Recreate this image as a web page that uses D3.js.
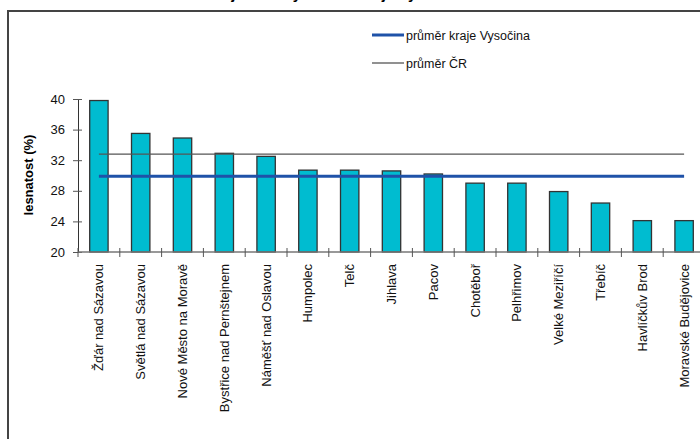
<!DOCTYPE html>
<html>
<head>
<meta charset="utf-8">
<script src="https://cdn.jsdelivr.net/npm/d3@7"></script>
<style>
  body { margin: 0; background: #fff; }
  svg { display: block; font-family: Arial, "Liberation Sans", sans-serif; }
</style>
</head>
<body>
<svg id="chart"></svg>
<script>
// Data
const towns = ["Žďár nad Sázavou", "Světlá nad Sázavou", "Nové Město na Moravě",
  "Bystřice nad Pernštejnem", "Náměšť nad Oslavou", "Humpolec", "Telč", "Jihlava",
  "Pacov", "Chotěboř", "Pelhřimov", "Velké Meziříčí", "Třebíč", "Havlíčkův Brod",
  "Moravské Budějovice"];
const forestShare = [39.8, 35.5, 34.9, 32.9, 32.5, 30.7, 30.7, 30.6, 30.2, 29.0, 29.0, 27.9, 26.4, 24.1, 24.1];
const regionAvg = 29.9;
const czAvg = 32.8;
const yTicks = [20, 24, 28, 32, 36, 40];
const legendLabels = ["průměr kraje Vysočina", "průměr ČR"];

const W = 700, H = 439;
const svg = d3.select("#chart").attr("width", W).attr("height", H);

// title sits above the top edge, only its descenders show (as in the source)
svg.append("text")
  .attr("x", 310).attr("y", -1)
  .attr("text-anchor", "middle")
  .style("font-size", "15px").style("font-weight", "bold")
  .text("Lesnatost jednotlivých ORP kraje Vysočina");

// frame
svg.append("rect")
  .attr("x", 8).attr("y", 11).attr("width", 740).attr("height", 470)
  .attr("fill", "#fff").attr("stroke", "#444").attr("stroke-width", 2);

// Scales
const x = d3.scaleBand().domain(towns).range([78, 705]).paddingInner(0.56).paddingOuter(0.28);
const y = d3.scaleLinear().domain([20, 40]).range([252, 99]);
const step = x.step();

// bars
svg.selectAll(".bar")
  .data(towns)
  .enter().append("rect")
  .attr("class", "bar")
  .attr("x", d => x(d))
  .attr("y", (d, i) => y(forestShare[i]))
  .attr("width", x.bandwidth())
  .attr("height", (d, i) => y(20) - y(forestShare[i]))
  .attr("fill", "#00BCD0")
  .attr("stroke", "#333")
  .attr("stroke-width", 1.3);

// average lines
const avgLine = v => d3.line()
  .x(d => x(d) + x.bandwidth() / 2)
  .y(() => y(v));

svg.append("path")
  .attr("d", avgLine(czAvg)(towns))
  .attr("fill", "none").attr("stroke", "#555").attr("stroke-width", 1.3);

svg.append("path")
  .attr("d", avgLine(regionAvg)(towns))
  .attr("fill", "none").attr("stroke", "#1f52a8").attr("stroke-width", 3);

// y axis
const yAxis = svg.append("g").attr("transform", "translate(78,0)")
  .call(d3.axisLeft(y).tickValues(yTicks).tickSize(5).tickPadding(8));
yAxis.select(".domain").attr("stroke", "#333");
yAxis.selectAll(".tick line").attr("x2", 4).attr("x1", -5).attr("stroke", "#555");
yAxis.selectAll(".tick text").style("font-size", "13px").attr("fill", "#111");

// x axis
svg.append("line")
  .attr("x1", 78).attr("x2", 705).attr("y1", y(20)).attr("y2", y(20))
  .attr("stroke", "#777").attr("stroke-width", 1.3);
svg.selectAll(".xtick")
  .data(d3.range(towns.length + 1))
  .enter().append("line")
  .attr("x1", i => x.range()[0] + i * step)
  .attr("x2", i => x.range()[0] + i * step)
  .attr("y1", y(20) - 4).attr("y2", y(20) + 5)
  .attr("stroke", "#555");

svg.selectAll(".xlabel")
  .data(towns)
  .enter().append("text")
  .attr("transform", d => `translate(${x(d) + x.bandwidth() / 2 + 4.5},${y(20) + 12}) rotate(-90)`)
  .attr("text-anchor", "end")
  .style("font-size", "13px")
  .attr("fill", "#111")
  .text(d => d);

// y label
svg.append("text")
  .attr("transform", "translate(33,175) rotate(-90)")
  .attr("text-anchor", "middle")
  .style("font-size", "13px").style("font-weight", "bold")
  .text("lesnatost (%)");

// legend
const legend = svg.append("g");
const legendStyle = [{ c: "#1f52a8", w: 3 }, { c: "#555", w: 1.3 }];
legendLabels.forEach((t, i) => {
  const ly = 35 + i * 28;
  legend.append("line")
    .attr("x1", 372).attr("x2", 404).attr("y1", ly).attr("y2", ly)
    .attr("stroke", legendStyle[i].c).attr("stroke-width", legendStyle[i].w);
  legend.append("text")
    .attr("x", 406).attr("y", ly + 4.5)
    .style("font-size", "12.5px").attr("fill", "#111")
    .text(t);
});
</script>
</body>
</html>
